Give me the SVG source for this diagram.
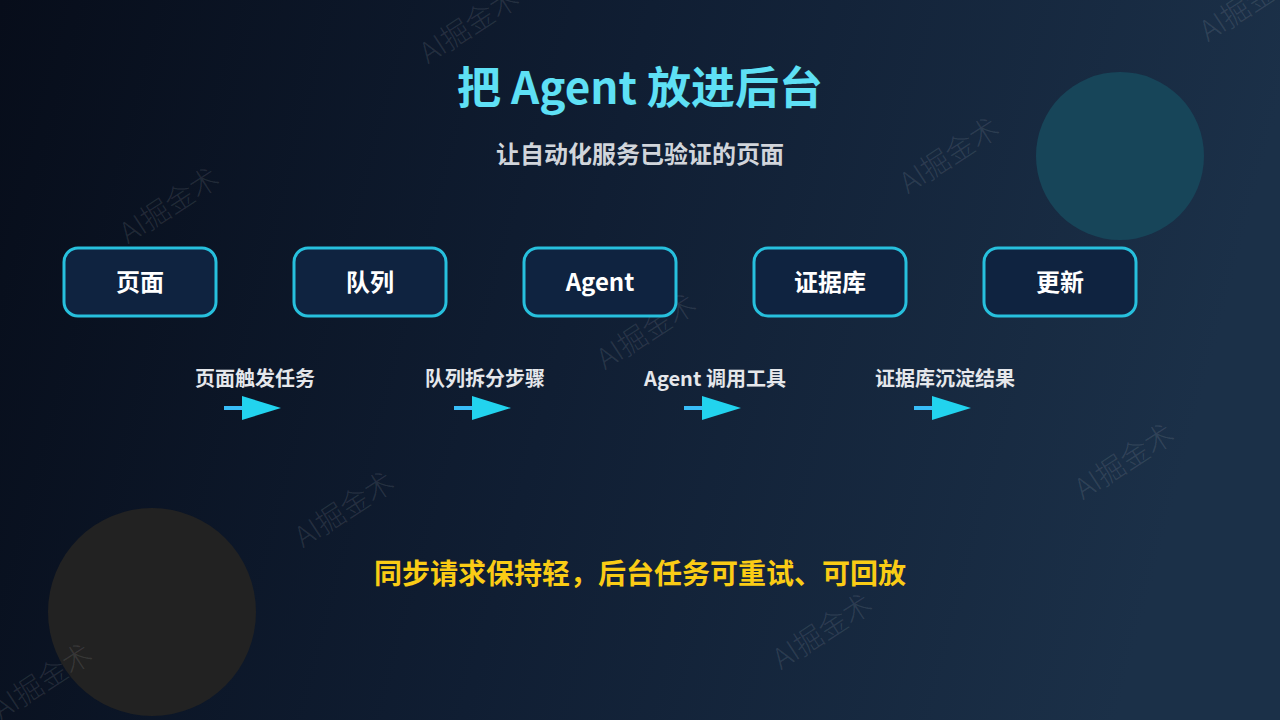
<svg xmlns="http://www.w3.org/2000/svg" width="1280" height="720" viewBox="0 0 1280 720">
  <defs>
    <linearGradient id="bg" x1="0" y1="0" x2="1" y2="0.15">
      <stop offset="0" stop-color="#070d1a"/>
      <stop offset="0.5" stop-color="#101e33"/>
      <stop offset="1" stop-color="#1b3048"/>
    </linearGradient>
    <style>
      .wm { font-family: "Noto Sans CJK SC", "Noto Sans", sans-serif; font-size: 29px; font-weight: 300; fill: #ffffff; fill-opacity: 0.1; text-anchor: middle; }
      .node rect { fill: #0f2340; stroke: #27c0dd; stroke-width: 3; }
      .node text { font-family: "Noto Sans CJK SC", "Noto Sans", sans-serif; font-size: 24px; font-weight: 700; fill: #ffffff; text-anchor: middle; }
      .elabel { font-family: "Noto Sans CJK SC", "Noto Sans", sans-serif; font-size: 20px; font-weight: 700; fill: #e5e7eb; text-anchor: middle; }
      .shaft { stroke: #38bdf8; stroke-width: 4; }
      .head { fill: #22d3ee; }
    </style>
  </defs>
  <rect x="0" y="0" width="1280" height="720" fill="url(#bg)"/>
  <circle cx="1120" cy="156" r="84" fill="#174559"/>
  <circle cx="152" cy="612" r="104" fill="#222222"/>

  <g id="watermarks">
    <text class="wm" transform="translate(475,34) rotate(-33)">AI掘金术</text>
    <text class="wm" transform="translate(175,214) rotate(-33)">AI掘金术</text>
    <text class="wm" transform="translate(955,164) rotate(-33)">AI掘金术</text>
    <text class="wm" transform="translate(652,340) rotate(-33)">AI掘金术</text>
    <text class="wm" transform="translate(350,518) rotate(-33)">AI掘金术</text>
    <text class="wm" transform="translate(1130,470) rotate(-33)">AI掘金术</text>
    <text class="wm" transform="translate(828,640) rotate(-33)">AI掘金术</text>
    <text class="wm" transform="translate(48,690) rotate(-33)">AI掘金术</text>
    <text class="wm" transform="translate(1255,12) rotate(-33)">AI掘金术</text>
  </g>

  <g id="title">
    <text x="640" y="104" font-family="Noto Sans CJK SC, Noto Sans, sans-serif" font-size="44" font-weight="700" fill="#5ee0f5" text-anchor="middle">把 Agent 放进后台</text>
    <text x="640" y="163" font-family="Noto Sans CJK SC, Noto Sans, sans-serif" font-size="24" font-weight="700" fill="#d1d5db" text-anchor="middle">让自动化服务已验证的页面</text>
  </g>

  <g id="node-page" class="node"><rect x="64" y="248" width="152" height="68" rx="14"/><text x="140" y="291">页面</text></g>
  <g id="node-queue" class="node"><rect x="294" y="248" width="152" height="68" rx="14"/><text x="370" y="291">队列</text></g>
  <g id="node-agent" class="node"><rect x="524" y="248" width="152" height="68" rx="14"/><text x="600" y="291">Agent</text></g>
  <g id="node-evidence" class="node"><rect x="754" y="248" width="152" height="68" rx="14"/><text x="830" y="291">证据库</text></g>
  <g id="node-update" class="node"><rect x="984" y="248" width="152" height="68" rx="14"/><text x="1060" y="291">更新</text></g>

  <g id="connectors">
    <text class="elabel" x="255" y="386">页面触发任务</text>
    <line class="shaft" x1="224" y1="408" x2="246" y2="408"/>
    <polygon class="head" points="242,396 281,408 242,420"/>

    <text class="elabel" x="485" y="386">队列拆分步骤</text>
    <line class="shaft" x1="454" y1="408" x2="476" y2="408"/>
    <polygon class="head" points="472,396 511,408 472,420"/>

    <text class="elabel" x="715" y="386">Agent 调用工具</text>
    <line class="shaft" x1="684" y1="408" x2="706" y2="408"/>
    <polygon class="head" points="702,396 741,408 702,420"/>

    <text class="elabel" x="945" y="386">证据库沉淀结果</text>
    <line class="shaft" x1="914" y1="408" x2="936" y2="408"/>
    <polygon class="head" points="932,396 971,408 932,420"/>
  </g>

  <g id="footer">
    <text x="640" y="584" font-family="Noto Sans CJK SC, Noto Sans, sans-serif" font-size="28" font-weight="700" fill="#facc15" text-anchor="middle">同步请求保持轻，后台任务可重试、可回放</text>
  </g>
</svg>
